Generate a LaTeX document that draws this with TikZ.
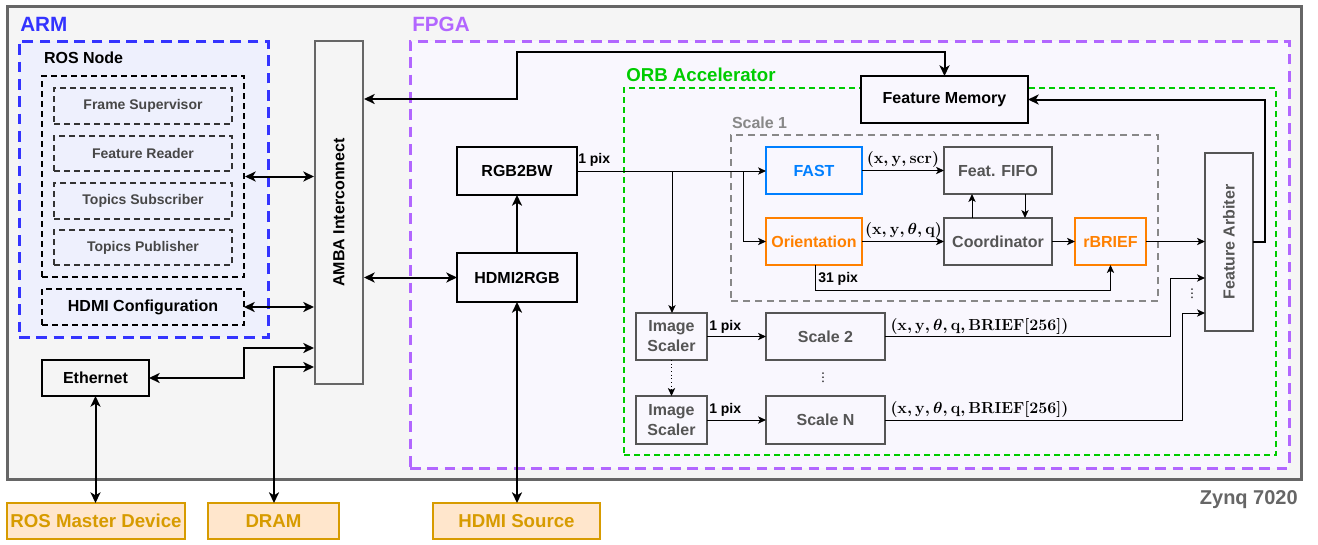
\documentclass[tikz,border=0pt]{standalone}
\usepackage[no-math]{fontspec}
\setmainfont{Liberation Sans}
\newfontfamily\djv{DejaVu Sans}
\usetikzlibrary{arrows.meta,calc}
\definecolor{zfill}{HTML}{F5F5F5}
\definecolor{zline}{HTML}{666666}
\definecolor{armblue}{HTML}{3333FF}
\definecolor{armfill}{HTML}{EEF0FD}
\definecolor{fpgapur}{HTML}{B266FF}
\definecolor{fpgafill}{HTML}{F9F7FE}
\definecolor{orbgreen}{HTML}{00CC00}
\definecolor{sgray}{HTML}{888888}
\definecolor{boxgray}{HTML}{555555}
\definecolor{fastblue}{HTML}{007FFF}
\definecolor{orng}{HTML}{FF8000}
\definecolor{extfill}{HTML}{FFE6CC}
\definecolor{extline}{HTML}{D79B00}
\tikzset{
  sz/.style 2 args={minimum width=#1*0.75pt, minimum height=#2*0.75pt},
  base/.style={inner sep=0pt, outer sep=0pt, align=center, font=\bfseries\fontsize{12}{14}\selectfont},
  blk/.style={base, draw=black, line width=1.5pt},
  gbox/.style={base, draw=boxgray, line width=1.5pt, text=boxgray},
  ext/.style={base, draw=extline, fill=extfill, line width=1.5pt, text=extline, font=\bfseries\fontsize{14}{16}\selectfont},
  inr/.style={base, draw=black!80, line width=1.2pt, dash pattern=on 4.5pt off 3pt, text=black!72, font=\bfseries\fontsize{10.5}{12}\selectfont, sz={178}{36}},
  lbl/.style={inner sep=0pt, font=\bfseries\fontsize{10.5}{12}\selectfont},
  mlbl/.style={inner sep=0pt, font=\fontsize{12}{14}\selectfont\boldmath},
  vdt/.style={inner sep=0pt, font=\djv\fontsize{9}{9}\selectfont},
  tk/.style={line width=1.5pt, -{Stealth[length=8pt,width=7.5pt,inset=2.2pt]}},
  dbl/.style={line width=1.5pt, {Stealth[length=8pt,width=7.5pt,inset=2.2pt]}-{Stealth[length=8pt,width=7.5pt,inset=2.2pt]}},
  tn/.style={line width=0.75pt, -{Stealth[length=6pt,width=5.5pt,inset=1.6pt]}}
}
\begin{document}
\begin{tikzpicture}[x=0.75pt,y=-0.75pt]
\useasboundingbox (0,0) rectangle (1318,544);
% Zynq
\node[draw=zline, fill=zfill, line width=2.25pt, sz={1294}{473}] (zynq) at (654,242.5) {};
\node[anchor=east, text=zline, inner sep=0pt, font=\bfseries\fontsize{15}{18}\selectfont] (zlab) at (1298,500) {Zynq 7020};
% ARM
\node[draw=armblue, fill=armfill, line width=2.25pt, dash pattern=on 8pt off 5pt, sz={249}{296}] (arm) at (143.5,189) {};
\node[anchor=west, text=armblue, inner sep=0pt, font=\bfseries\fontsize{15.5}{18}\selectfont] (armlab) at (20,24) {ARM};
\node[draw=black, line width=1.5pt, dash pattern=on 4.5pt off 3pt, sz={202}{201}] (ros) at (143,176.5) {};
\node[base, anchor=west] (roslab) at (44,58) {ROS Node};
\node[inr] (fs) at (143,106) {Frame Supervisor};
\node[inr, sz={178}{35}] (fr) at (143,153.5) {Feature Reader};
\node[inr] (ts) at (143,201) {Topics Subscriber};
\node[inr, sz={178}{35}] (tp) at (143,247.5) {Topics Publisher};
\node[base, draw=black, line width=1.5pt, dash pattern=on 4.5pt off 3pt, sz={202}{36}] (hcfg) at (143,307) {HDMI Configuration};
% AMBA
\node[draw=zline, fill=zfill, line width=1.5pt, sz={48}{343}] (amba) at (339,212.5) {};
\node[base, rotate=90] (ambalab) at (amba.center) {AMBA Interconnect};
\node[blk, sz={107}{36}] (eth) at (95.5,378) {Ethernet};
% external
\node[ext, sz={178}{36}] (rosm) at (96,521) {ROS Master Device};
\node[ext, sz={131}{36}] (dram) at (273.5,521) {DRAM};
\node[ext, sz={167}{36}] (hsrc) at (516.5,521) {HDMI Source};
% FPGA
\node[draw=fpgapur, fill=fpgafill, line width=2.25pt, dash pattern=on 8pt off 5pt, sz={879}{427}] (fpga) at (849.5,254.5) {};
\node[anchor=west, text=fpgapur, inner sep=0pt, font=\bfseries\fontsize{15.5}{18}\selectfont] (fpgalab) at (412,24) {FPGA};
\node[draw=orbgreen, line width=1.5pt, dash pattern=on 4.5pt off 3pt, sz={652}{367}] (orb) at (950,271.5) {};
\node[anchor=west, text=orbgreen, inner sep=0pt, font=\bfseries\fontsize{14}{16}\selectfont] (orblab) at (626,74.5) {ORB Accelerator};
\node[draw=sgray, line width=1.5pt, dash pattern=on 5pt off 4pt, sz={427}{166}] (sc1) at (944.5,218) {};
\node[base, anchor=west, text=sgray] (sc1lab) at (732,122.5) {Scale 1};
\node[blk, fill=fpgafill, sz={167}{47}] (fmem) at (944.5,99.5) {Feature Memory};
\node[blk, sz={120}{48}] (rgb) at (517,171) {RGB2BW};
\node[blk, sz={120}{49}] (h2r) at (517,277.5) {HDMI2RGB};
\node[base, draw=fastblue, line width=1.5pt, text=fastblue, sz={96}{47}] (fast) at (814,170.5) {FAST};
\node[base, draw=orng, line width=1.5pt, text=orng, sz={96}{47}] (orient) at (814,241.5) {Orientation};
\node[gbox, sz={108}{47}] (fifo) at (998,170.5) {Feat. FIFO};
\node[gbox, sz={108}{47}] (coord) at (998,241.5) {Coordinator};
\node[base, draw=orng, line width=1.5pt, text=orng, sz={71}{47}] (rbrief) at (1110.5,241.5) {rBRIEF};
\node[gbox, sz={48}{178}] (arb) at (1229,242) {};
\node[base, rotate=90, text=boxgray] (arblab) at (arb.center) {Feature Arbiter};
\node[gbox, sz={71}{47}, font=\bfseries\fontsize{12}{15}\selectfont] (isc1) at (671.5,336.5) {Image\\Scaler};
\node[gbox, sz={119}{47}] (sc2) at (825.5,336.5) {Scale 2};
\node[gbox, sz={71}{48}, font=\bfseries\fontsize{12}{15}\selectfont] (isc2) at (671.5,420) {Image\\Scaler};
\node[gbox, sz={119}{48}] (scn) at (825.5,420) {Scale N};
% labels
\node[lbl, anchor=west] (l1) at (578,160) {1 pix};
\node[lbl, anchor=west] (l2) at (818,279) {31 pix};
\node[lbl, anchor=west] (l3) at (709,327) {1 pix};
\node[lbl, anchor=west] (l4) at (709,410) {1 pix};
\node[mlbl] (m1) at (903,159) {$(\mathbf{x},\mathbf{y},\mathbf{scr})$};
\node[mlbl] (m2) at (903.5,230) {$(\mathbf{x},\mathbf{y},\theta,\mathbf{q})$};
\node[mlbl] (m3) at (979.5,326) {$(\mathbf{x},\mathbf{y},\theta,\mathbf{q},\mathbf{BRIEF}[\mathbf{256}])$};
\node[mlbl] (m4) at (979.5,409) {$(\mathbf{x},\mathbf{y},\theta,\mathbf{q},\mathbf{BRIEF}[\mathbf{256}])$};
\node[vdt] (vd1) at (823,378) {⋮};
\node[vdt] (vd2) at (1192,294) {⋮};
% thick connectors
\draw[dbl] (ros.east) -- (ros.east -| amba.west);
\draw[dbl] (hcfg.east) -- (hcfg.east -| amba.west);
\coordinate (e1) at (244,348);
\draw[dbl] (eth.east) -| (e1) -- (e1 -| amba.west);
\coordinate (d1) at (274,367);
\draw[dbl] (d1 |- dram.north) -- (d1) -- (d1 -| amba.west);
\draw[dbl] (eth.south) -- (eth.south |- rosm.north);
\draw[dbl] (h2r.south) -- (h2r.south |- hsrc.north);
\draw[tk] (h2r.north) -- (rgb.south);
\draw[dbl] (amba.east |- h2r.west) -- (h2r.west);
\coordinate (a0) at (517,99);
\coordinate (a1) at (517,52);
\draw[dbl] (a0 -| amba.east) -- (a0) -- (a1) -- (a1 -| fmem.north) -- (fmem.north);
\coordinate (r1) at (1265,242);
\draw[tk] (arb.east) -- (r1) |- (fmem.east);
% thin connectors
\draw[tn] (rgb.east) -- (rgb.east -| fast.west);
\coordinate (b1) at (672,171);
\draw[tn] (b1) -- (b1 |- isc1.north);
\coordinate (b2) at (743,171);
\draw[tn] (b2) |- (orient.west);
\draw[tn] (fast.east) -- (fifo.west);
\draw[tn] (orient.east) -- (coord.west);
\draw[tn] ($(coord.north)+(-26,0)$) -- ($(fifo.south)+(-26,0)$);
\draw[tn] ($(fifo.south)+(27,0)$) -- ($(coord.north)+(27,0)$);
\draw[tn] (coord.east) -- (rbrief.west);
\draw[tn] ($(orient.south)+(1,0)$) -- ++(0,25) -| (rbrief.south);
\draw[tn] (rbrief.east) -- (rbrief.east -| arb.west);
\draw[tn] (isc1.east) -- (isc1.east -| sc2.west);
\draw[tn, dotted] (isc1.south) -- (isc2.north);
\draw[tn] (isc2.east) -- (scn.west);
\coordinate (s2) at (1170,278);
\draw[tn] (sc2.east) -| (s2) -- (s2 -| arb.west);
\coordinate (sn) at (1182,313);
\draw[tn] (scn.east) -| (sn) -- (sn -| arb.west);
\end{tikzpicture}
\end{document}
